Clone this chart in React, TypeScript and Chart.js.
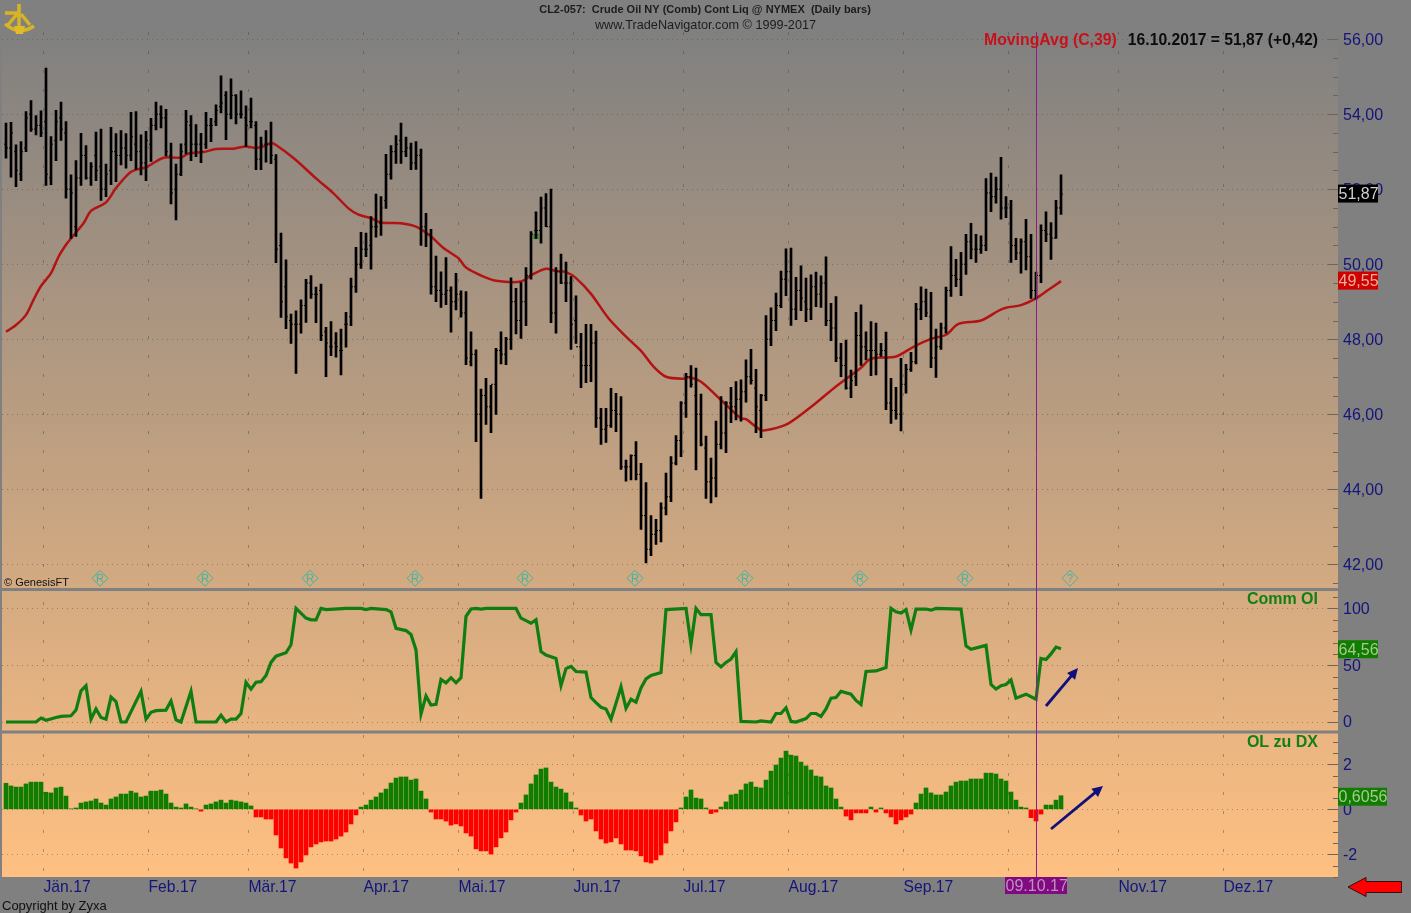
import { useEffect, useRef } from "react";
import { Chart, registerables } from "chart.js";

Chart.register(...registerables);

const highs = [
  53.76,53.78,53.18,53.27,54.07,54.36,53.96,54.09,55.23,53.40,
  54.10,54.32,53.80,52.38,52.76,53.49,53.16,52.71,53.52,53.60,
  52.67,53.65,53.48,53.56,53.48,54.05,54.07,53.45,53.54,53.89,
  54.32,54.22,54.13,53.23,52.67,53.21,54.10,53.96,53.72,53.49,
  54.05,53.89,54.25,55.02,54.60,54.94,54.52,54.62,54.22,54.43,
  53.80,53.39,53.56,53.79,52.92,50.83,50.12,48.67,48.76,49.05,
  49.60,49.70,49.39,49.47,48.32,48.47,48.18,48.27,48.72,49.63,
  50.45,50.85,50.83,51.27,51.87,51.80,52.93,53.16,53.43,53.76,
  53.39,53.23,53.27,53.07,51.36,50.93,50.22,49.80,50.18,49.40,
  49.76,49.29,49.27,48.20,47.72,46.67,46.96,46.77,47.76,48.20,
  48.05,49.64,49.36,49.51,49.91,50.87,51.40,51.79,51.88,52.00,
  49.91,50.27,50.06,49.67,49.16,48.16,48.40,48.40,48.22,46.16,
  46.16,46.69,46.56,46.47,44.78,44.92,45.27,44.69,44.18,43.30,
  43.20,43.64,44.43,44.87,45.43,46.34,47.09,47.30,47.23,46.54,
  45.42,44.83,45.82,46.47,46.34,46.72,46.87,46.92,47.45,47.73,
  47.20,46.53,48.63,48.84,49.23,49.82,50.41,50.43,49.65,49.96,
  49.63,49.72,49.79,49.69,50.20,48.96,49.14,47.89,47.98,47.18,
  48.72,48.92,48.20,48.47,48.43,47.89,48.19,46.96,46.72,47.49,
  47.33,47.65,48.96,49.40,49.34,49.25,48.27,48.43,49.39,50.47,
  50.13,50.32,50.80,51.09,50.80,50.76,52.28,52.43,52.32,52.85,
  51.80,51.70,50.69,50.68,51.20,50.80,49.79,51.05,51.40,51.11,51.70,52.38,
];

const lows = [
  52.83,52.32,52.07,52.23,53.00,53.54,53.45,53.40,52.10,52.12,
  52.76,53.30,51.76,50.69,50.74,52.10,52.27,52.10,52.23,51.70,
  51.80,52.12,52.20,52.65,52.56,52.76,52.53,52.38,52.23,52.74,
  53.58,53.63,52.89,51.61,51.18,52.36,52.94,52.76,52.87,52.71,
  53.09,53.27,53.69,54.03,53.32,53.87,53.74,53.89,53.14,53.63,
  52.52,52.52,52.72,52.68,50.04,48.58,48.28,47.89,47.09,48.16,
  48.45,49.09,48.44,47.96,47.00,47.56,47.52,47.05,47.79,48.36,
  49.25,49.89,50.20,49.87,50.72,50.77,51.49,52.27,52.69,52.69,
  52.87,52.52,52.53,50.50,50.47,49.20,49.00,48.85,48.92,48.19,
  48.78,48.59,47.32,47.29,45.27,43.76,45.73,45.51,46.00,47.34,
  47.32,47.73,48.14,48.02,48.36,49.60,50.69,50.56,51.00,48.44,
  48.16,49.48,49.00,47.73,47.89,46.71,46.84,46.87,45.65,45.20,
  45.25,45.65,45.54,44.53,44.22,44.25,44.25,42.93,42.04,42.23,
  42.53,42.60,43.32,43.67,44.65,44.87,45.92,46.72,44.52,45.16,
  43.76,43.64,43.80,45.08,44.98,45.78,45.85,45.82,46.32,46.80,
  45.51,45.38,46.36,47.83,48.23,48.84,49.16,48.37,48.52,48.76,
  48.47,48.52,48.87,48.85,48.36,47.96,47.40,47.00,46.67,46.44,
  46.76,47.30,47.45,47.03,47.05,47.54,46.12,45.76,45.87,45.56,
  46.56,47.14,47.34,48.52,48.60,47.24,46.98,47.73,48.16,49.14,
  49.40,49.16,49.73,50.14,50.05,50.29,50.36,51.40,51.63,51.20,
  51.24,50.05,50.12,49.76,49.85,49.09,49.07,49.51,50.60,50.13,50.69,51.33,
];

const opens = [
  53.2,53.1,53.0,52.4,53.1,54.0,53.6,53.7,53.8,52.3,
  53.3,53.9,53.5,52.0,51.0,52.3,52.9,52.3,52.9,52.6,
  52.0,52.5,53.0,52.9,53.1,52.9,53.2,53.0,52.7,53.2,
  53.7,54.0,53.9,52.9,52.0,52.4,53.2,53.7,53.2,53.2,
  53.2,53.7,53.8,54.2,54.5,54.0,54.5,54.0,53.9,53.8,
  53.7,52.8,53.2,53.2,52.8,50.5,49.4,48.5,48.4,48.4,
  48.9,49.5,49.2,49.3,48.2,47.8,47.9,47.7,48.4,48.6,
  49.4,50.0,50.4,50.5,51.0,51.1,51.7,52.4,53.0,53.3,
  53.0,53.1,52.7,52.9,51.0,50.8,49.4,49.3,49.2,49.3,
  49.0,49.2,48.7,47.4,47.6,46.0,46.5,46.2,46.8,47.7,
  47.6,48.0,49.0,48.5,49.0,49.7,50.9,50.9,51.5,51.0,
  48.7,49.8,49.5,49.5,48.5,47.8,47.3,47.3,47.9,45.9,
  45.6,45.7,46.1,46.0,44.6,44.6,44.9,44.4,43.3,42.4,
  42.8,42.9,43.5,43.8,44.7,45.3,46.3,47.0,46.5,46.0,
  45.1,44.2,44.3,45.2,45.5,46.3,46.2,46.4,46.6,47.0,
  46.7,46.1,46.5,48.0,48.5,48.9,49.6,49.8,48.8,49.3,
  49.0,48.8,49.4,49.2,49.5,48.5,48.3,47.5,47.3,46.7,
  47.0,48.1,47.8,47.7,47.7,47.6,47.7,46.3,46.1,46.0,
  46.8,47.2,47.4,48.8,49.0,48.6,47.5,47.8,48.3,49.3,
  49.7,49.6,50.0,50.6,50.4,50.4,50.5,51.9,51.8,52.0,
  51.5,51.5,50.5,50.3,50.6,50.2,49.3,49.7,50.9,50.8,50.7,51.5,
];

const closes = [
  53.1,53.5,52.5,53.0,53.9,53.6,53.7,53.5,52.4,53.2,
  53.8,53.6,52.0,51.9,52.3,52.9,52.3,52.6,52.5,52.0,
  52.4,53.0,52.9,53.1,52.9,53.4,53.0,52.7,53.3,53.7,
  54.0,53.9,53.0,51.9,52.4,53.0,53.8,53.2,53.2,53.0,
  53.7,53.7,54.1,54.3,54.0,54.5,54.0,54.0,53.7,53.8,
  52.8,53.2,53.2,52.9,50.4,49.0,48.6,48.4,48.4,48.9,
  49.5,49.2,49.2,48.1,47.9,47.8,47.8,47.7,48.4,49.4,
  50.0,50.4,50.4,51.0,51.0,51.5,52.4,53.0,53.2,53.0,
  53.1,52.7,52.9,51.0,50.8,49.4,49.3,49.2,49.3,49.0,
  49.2,48.7,47.5,47.6,46.0,46.5,46.2,46.8,47.7,47.6,
  48.0,49.0,48.5,49.0,49.7,50.8,50.9,51.5,51.0,48.7,
  49.8,49.5,49.5,48.4,47.8,47.3,47.3,47.9,45.9,45.6,
  45.7,46.1,46.0,44.6,44.6,44.9,44.4,43.3,42.4,42.8,
  42.9,43.5,43.8,44.7,45.3,46.3,47.0,46.8,46.0,45.2,
  44.2,44.3,45.2,45.5,46.3,46.2,46.4,46.6,47.0,46.9,
  46.2,46.5,48.0,48.5,48.9,49.6,49.8,48.8,49.3,49.1,
  48.8,49.4,49.2,49.5,48.5,48.3,47.5,47.3,46.7,46.9,
  48.1,47.8,47.7,47.7,47.6,47.7,46.3,46.1,46.0,46.8,
  47.2,47.4,48.8,49.0,48.7,47.5,47.8,48.3,49.3,49.7,
  49.6,50.0,50.6,50.4,50.4,50.5,51.9,51.8,52.0,51.5,
  51.5,50.5,50.3,50.6,50.2,49.3,49.7,50.9,50.8,50.7,51.5,51.87,
];

// moving average, read at its bends
const maIndex = [
  0,2,4,5.5,7,9,10.5,12,13,15.5,17,20,22,24.5,26,28,31.5,35,36.5,39.5,42,45.5,48,50,51.5,53,54,57.5,62,65.5,68.5,
  70.5,73,75,79,82,85,87.5,90.5,92,95,98,103,105.5,108,110,112,114,117,120.5,124,127,129.5,132,135.5,136.5,
  139,143,147,148,151,153,156.5,161.5,165.5,171,173,178,181.5,185,188,190.5,195,198.5,200,203,206,208.5,211,
];
const maValues = [
  48.20,48.38,48.65,49.05,49.42,49.76,50.20,50.52,50.69,51.09,51.42,51.65,52.03,52.41,52.52,52.58,52.84,52.84,52.95,52.99,53.07,53.08,53.14,53.10,53.14,53.23,53.18,52.83,52.29,51.89,51.49,
  51.32,51.23,51.11,51.09,51.00,50.74,50.43,50.16,49.91,49.70,49.56,49.54,49.74,49.88,49.82,49.79,49.63,49.21,48.56,48.07,47.69,47.27,47.00,46.95,46.99,
  46.87,46.38,45.89,45.87,45.58,45.60,45.76,46.25,46.69,47.24,47.48,47.54,47.80,48.01,48.12,48.41,48.50,48.76,48.84,48.91,49.09,49.32,49.55,
];

const oiIndex = [
  0,6,7,8,10,11,13,14,15,16,17,18,19,20,21,22,23,24,27,28,29,30,32,33,34,35,37,38,42,43,44,45,46,47,48,49,50,51,52,53,54,56,57,58,60,61,62,63,64,68,
  69,71,72,73,76,77,78,80,81,82,83,84,85,86,87,88,89,90,91,92,93,94,95,96,102,103,105,106,107,108,110,111,112,113,114,116,117,118,119,120,121,122,123,124,125,126,127,128,129,131,132,136,137,138,
  139,141,142,143,144,145,146,147,150,151,153,154,155,156,157,158,160,161,162,163,164,165,166,167,169,170,171,172,174,176,177,178,179,180,181,182,184,185,186,191,192,193,196,197,198,199,200,201,202,204,206,207,208,209,210,211,
];
const oiValues = [
  0,0,3.5,1.5,4,5,5.5,10.5,27.5,32,2.5,11.5,4,2.5,22,18,0,0,27,2.5,8.5,10,10.5,18.5,2,0,27,0,0,6,0,2.5,2.5,7.5,35,29,35,35.5,41,52.5,58,61,68,100,91.5,90,90,100,99,100,
  100,100,99,100,99,97,82.5,80.5,77,63.5,7,23,15,15.5,37.5,34.5,39,34.5,39,93,99.5,100,99.5,100,100,91.5,87,90,62,59,56,32,47,49,44.5,44,21.5,17,13,11.5,2.5,16.5,31,12,20,17.5,30,38,41,43.5,99,100,68.5,100,
  94.5,94.5,52.5,48.5,52.5,55.5,62,0.5,0,1,0,7.5,7.5,12.5,0.5,0,3,7.5,7.5,5,11.5,21,21.5,27,24.5,19,15.5,44.5,45,48,100,97,96,99,81,99.5,99.5,98.5,100,99.5,67,64,67.5,33,29,32,33,37,21,24.5,20,56,55,60,66,64.56,
];

const oilVsDollar = [
  1.16,1.04,0.99,0.99,1.13,1.21,1.21,1.21,0.76,0.73,
  0.95,0.99,0.59,0.02,0.06,0.28,0.33,0.37,0.46,0.28,
  0.19,0.46,0.55,0.68,0.68,0.81,0.73,0.55,0.59,0.81,
  0.81,0.86,0.68,0.28,0.10,0.06,0.24,0.10,0.02,-0.08,
  0.19,0.24,0.33,0.41,0.28,0.41,0.37,0.33,0.28,0.15,
  -0.34,-0.34,-0.43,-0.43,-1.14,-1.72,-2.16,-2.39,-2.61,-2.34,
  -2.03,-1.67,-1.54,-1.45,-1.41,-1.41,-1.32,-1.19,-1.01,-0.65,
  -0.25,0.10,0.19,0.41,0.55,0.73,0.90,1.17,1.39,1.44,
  1.44,1.30,1.35,0.81,0.46,-0.12,-0.43,-0.43,-0.52,-0.70,
  -0.65,-0.74,-1.05,-1.19,-1.76,-1.85,-1.85,-1.99,-1.67,-1.27,
  -1.01,-0.47,-0.12,0.28,0.64,1.13,1.53,1.79,1.84,1.21,
  0.99,0.90,0.73,0.33,0.06,-0.25,-0.52,-0.43,-0.96,-1.32,
  -1.50,-1.45,-1.27,-1.54,-1.81,-1.81,-1.85,-2.07,-2.34,-2.39,
  -2.25,-2.03,-1.50,-0.96,-0.56,0.06,0.55,0.86,0.50,0.46,
  0.06,-0.19,-0.12,0.10,0.33,0.64,0.68,0.86,1.13,1.21,
  0.99,0.95,1.30,1.70,1.97,2.28,2.59,2.41,2.37,2.10,
  1.93,1.75,1.48,1.44,1.04,0.95,0.46,0.10,-0.30,-0.47,
  -0.16,-0.16,-0.16,0.10,-0.12,0.06,-0.16,-0.34,-0.65,-0.47,
  -0.34,-0.21,0.28,0.68,0.95,0.73,0.64,0.64,0.77,1.04,
  1.21,1.26,1.26,1.35,1.35,1.35,1.61,1.61,1.57,1.35,
  1.26,0.77,0.41,0.10,0.06,-0.37,-0.52,-0.21,0.19,0.19,0.41,0.6056,
];

const monthTicks = [7.5,28.5,48.5,71.5,90.5,113.5,135.5,156.5,179.5,200.5,222.5,243.5];
const monthLabels = ["Jän.17","Feb.17","Mär.17","Apr.17","Mai.17","Jun.17","Jul.17","Aug.17","Sep.17","","Nov.17","Dez.17"];
const rollIndex = [18.8,39.8,60.8,81.8,103.8,125.8,147.8,170.8,191.8,212.8];
const rollLabels = ["R","R","R","R","R","R","R","R","R","?"];
const rollLevel = 41.63;
const cursorIndex = 206;
const alertMark = { x: 106, y: 50.74 };

const bars = highs.map((h, i) => i);
const zip = (xs: number[], ys: number[]) => xs.map((x, i) => ({ x, y: ys[i] }));

const comma = (v: number, digits: number) => v.toFixed(digits).replace(".", ",");
const SANS = '"Liberation Sans", Arial, sans-serif';
const NAVY = "#14147a";

function fixedWidth(scale: any) {
  scale.width = 73;
  scale.paddingTop = 0;
  scale.paddingBottom = 0;
}

// panel furniture and the text that sits on the plot
const furniture = {
  id: "furniture",
  beforeDraw(chart: any) {
    const { ctx, chartArea: a, width, height } = chart;
    ctx.save();
    ctx.fillStyle = "#808080";
    ctx.fillRect(0, 0, width, height);
    const g = ctx.createLinearGradient(0, a.top, 0, a.bottom);
    g.addColorStop(0, "#808080");
    g.addColorStop(1, "#ffc082");
    ctx.fillStyle = g;
    ctx.fillRect(a.left, a.top, a.right - a.left, a.bottom - a.top);
    ctx.restore();
  },
  beforeDatasetsDraw(chart: any) {
    const { ctx, chartArea: a, scales } = chart;
    ctx.save();
    // short ticks along the right edge
    const steps: [string, number, number][] = [["y", 0.5, 2], ["yOi", 10, 50], ["yOsc", 0.5, 2]];
    ctx.strokeStyle = "#6e6458";
    ctx.lineWidth = 1;
    for (const [id, step, major] of steps) {
      const s = scales[id];
      for (let v = Math.ceil(s.min / step) * step; v <= s.max; v += step) {
        const y = Math.round(s.getPixelForValue(v)) + 0.5;
        const len = Math.abs(v / major - Math.round(v / major)) < 1e-6 ? 10 : 5;
        ctx.beginPath();
        ctx.moveTo(a.right - len, y);
        ctx.lineTo(a.right, y);
        ctx.stroke();
      }
    }
    // panel dividers
    ctx.fillStyle = "#808080";
    ctx.fillRect(a.left, scales.y.bottom - 1.5, a.right - a.left, 3);
    ctx.fillRect(a.left, scales.yOi.bottom - 1.5, a.right - a.left, 3);
    ctx.restore();
  },
  afterDraw(chart: any) {
    const { ctx, chartArea: a, scales } = chart;
    ctx.save();
    const cx = Math.round(scales.x.getPixelForValue(cursorIndex)) + 0.5;
    ctx.strokeStyle = "#8f1a8c";
    ctx.lineWidth = 1;
    ctx.beginPath();
    ctx.moveTo(cx, a.top);
    ctx.lineTo(cx, a.bottom);
    ctx.stroke();

    const text = (t: string, x: number, y: number, font: string, color: string, align = "left") => {
      ctx.font = `${font} ${SANS}`;
      ctx.fillStyle = color;
      ctx.textAlign = align;
      ctx.textBaseline = "middle";
      ctx.fillText(t, x, y);
    };
    text("CL2-057:  Crude Oil NY (Comb) Cont Liq @ NYMEX  (Daily bars)", 705, 10, "bold 11px", "#1c1c1c", "center");
    text("www.TradeNavigator.com © 1999-2017", 705.5, 25, "12.7px", "#1c1c1c", "center");
    text("MovingAvg (C,39)", 984, 40.5, "bold 15.8px", "#c8101a");
    text("16.10.2017 = 51,87 (+0,42)", 1318, 40.5, "bold 15.7px", "#0c0c0c", "right");
    text("© GenesisFT", 4, 582.5, "11px", "#101010");
    text("Comm OI", 1318, 599.5, "bold 16px", "#128012", "right");
    text("OL zu DX", 1318, 742.5, "bold 16px", "#128012", "right");
    text("Copyright by Zyxa", 2, 906.5, "13px", "#101010");

    // value flags on the price axis
    const flags: [string, number, number, number, string, string][] = [
      [comma(closes[closes.length - 1], 2), scales.y.getPixelForValue(51.87) - 0.5, 40, 18, "#000000", "#d0d0d0"],
      [comma(maValues[maValues.length - 1], 2), scales.y.getPixelForValue(49.55) - 0.5, 40, 18, "#d00000", "#e8b0a0"],
      [comma(oiValues[oiValues.length - 1], 2), scales.yOi.getPixelForValue(64.56) + 0.5, 40, 18, "#107d00", "#a8c890"],
      [comma(oilVsDollar[oilVsDollar.length - 1], 4), scales.yOsc.getPixelForValue(0.6056) + 1, 49, 18, "#107d00", "#a8c890"],
    ];
    for (const [t, y, w, h, bg, fg] of flags) {
      ctx.fillStyle = bg;
      ctx.fillRect(a.right, y - h / 2, w, h);
      text(t, a.right + 0.5, y + 1, "16px", fg);
    }
    ctx.fillStyle = "#800a80";
    ctx.fillRect(1005, 877, 62, 17);
    text("09.10.17", 1005.5, 886.5, "16px", "#c090c0");

    // rollover letters inside the diamonds
    rollIndex.forEach((v, i) => {
      text(rollLabels[i], scales.x.getPixelForValue(v), scales.y.getPixelForValue(rollLevel) + 0.5, "11px", "#35b8a4", "center");
    });

    // hand-drawn arrows
    const arrow = (x0: number, y0: number, x1: number, y1: number) => {
      const ang = Math.atan2(y1 - y0, x1 - x0);
      ctx.strokeStyle = "#10107a";
      ctx.fillStyle = "#10107a";
      ctx.lineWidth = 2.8;
      ctx.beginPath();
      ctx.moveTo(x0, y0);
      ctx.lineTo(x1 - 6 * Math.cos(ang), y1 - 6 * Math.sin(ang));
      ctx.stroke();
      ctx.beginPath();
      ctx.moveTo(x1, y1);
      ctx.lineTo(x1 - 12 * Math.cos(ang - 0.45), y1 - 12 * Math.sin(ang - 0.45));
      ctx.lineTo(x1 - 12 * Math.cos(ang + 0.45), y1 - 12 * Math.sin(ang + 0.45));
      ctx.closePath();
      ctx.fill();
    };
    arrow(1046, 706, 1078, 668);
    arrow(1051, 829, 1103, 786);

    // red arrow, bottom right
    ctx.fillStyle = "#ff0000";
    ctx.strokeStyle = "#301010";
    ctx.lineWidth = 1;
    ctx.beginPath();
    ctx.moveTo(1348, 887);
    ctx.lineTo(1366, 877.5);
    ctx.lineTo(1366, 881.5);
    ctx.lineTo(1401.5, 881.5);
    ctx.lineTo(1401.5, 892.5);
    ctx.lineTo(1366, 892.5);
    ctx.lineTo(1366, 896.5);
    ctx.closePath();
    ctx.fill();
    ctx.stroke();

    // sextant logo
    ctx.strokeStyle = "#d8b424";
    ctx.fillStyle = "#e0bc28";
    ctx.lineWidth = 3.5;
    ctx.beginPath();
    ctx.moveTo(5, 13);
    ctx.lineTo(18, 13);
    ctx.moveTo(19, 4);
    ctx.lineTo(19, 30);
    ctx.moveTo(17, 14);
    ctx.lineTo(8, 25);
    ctx.moveTo(21, 14);
    ctx.lineTo(30, 25);
    ctx.stroke();
    ctx.beginPath();
    ctx.moveTo(5, 24);
    ctx.quadraticCurveTo(19, 36, 34, 26);
    ctx.stroke();
    ctx.beginPath();
    ctx.moveTo(14, 26);
    ctx.lineTo(25, 26);
    ctx.lineTo(23, 34);
    ctx.lineTo(16, 34);
    ctx.closePath();
    ctx.fill();
    ctx.restore();
  },
};

export default function App() {
  const canvasRef = useRef<HTMLCanvasElement>(null);

  useEffect(() => {
    if (!canvasRef.current) return;
    const gridCol = "rgba(75,62,50,0.42)";
    const tickFont = { family: SANS, size: 16 };
    const chart = new Chart(canvasRef.current, {
      type: "bar",
      data: {
        datasets: [
          {
            type: "bar",
            yAxisID: "y",
            grouped: false,
            barThickness: 2,
            backgroundColor: "#000000",
            data: bars.map((i) => ({ x: i, y: [lows[i], highs[i]] })),
          },
          {
            type: "line",
            yAxisID: "y",
            showLine: false,
            pointStyle: "dash",
            pointRadius: 2,
            pointRotation: 180,
            pointBorderColor: "#000000",
            pointBorderWidth: 1,
            data: zip(bars, opens),
          },
          {
            type: "line",
            yAxisID: "y",
            showLine: false,
            pointStyle: "dash",
            pointRadius: 2,
            pointBorderColor: "#000000",
            pointBorderWidth: 1,
            data: zip(bars, closes),
          },
          {
            type: "line",
            yAxisID: "y",
            showLine: false,
            pointStyle: "rect",
            pointRadius: 3,
            pointBackgroundColor: "#8a9a4a",
            pointBorderColor: "#0c9020",
            pointBorderWidth: 1,
            data: [alertMark],
          },
          {
            type: "line",
            yAxisID: "y",
            borderColor: "#b21414",
            borderWidth: 2.5,
            pointRadius: 0,
            tension: 0.3,
            data: zip(maIndex, maValues),
          },
          {
            type: "line",
            yAxisID: "y",
            showLine: false,
            pointStyle: "rectRot",
            pointRadius: 8,
            pointBackgroundColor: "transparent",
            pointBorderColor: "#35b8a4",
            pointBorderWidth: 1,
            data: rollIndex.map((x) => ({ x, y: rollLevel })),
          },
          {
            type: "line",
            yAxisID: "yOi",
            borderColor: "#107d10",
            borderWidth: 3.2,
            pointRadius: 0,
            tension: 0,
            data: zip(oiIndex, oiValues),
          },
          {
            type: "bar",
            yAxisID: "yOsc",
            grouped: false,
            barThickness: 4,
            backgroundColor: oilVsDollar.map((v) => (v < 0 ? "#ff0000" : "#0f7d00")),
            data: zip(bars, oilVsDollar),
          },
        ],
      } as any,
      options: {
        animation: false,
        responsive: false,
        devicePixelRatio: 1,
        layout: { autoPadding: false, padding: { left: 2, top: 32, right: 0, bottom: 0 } },
        plugins: { legend: { display: false }, tooltip: { enabled: false } },
        scales: {
          x: {
            type: "linear",
            offset: false,
            min: -0.8,
            max: 266.4,
            afterBuildTicks: (s: any) => {
              s.ticks = monthTicks.map((value) => ({ value }));
            },
            afterFit: (s: any) => {
              s.height = 36;
              s.paddingLeft = 0;
              s.paddingRight = 0;
            },
            grid: { offset: false, color: gridCol, drawTicks: false },
            border: { display: false, dash: [3, 16] },
            ticks: {
              autoSkip: false,
              maxRotation: 0,
              align: "start",
              padding: 1,
              color: NAVY,
              font: { family: SANS, size: 15.7 },
              callback: (v: any) => monthLabels[monthTicks.indexOf(Number(v))],
            },
          },
          y: {
            position: "right",
            stack: "panels",
            stackWeight: 557.5,
            weight: 1,
            min: 41.33,
            max: 56.19,
            afterFit: fixedWidth,
            grid: { color: gridCol, drawTicks: false },
            border: { display: false, dash: [1, 4] },
            ticks: { stepSize: 2, includeBounds: false, autoSkip: false, labelOffset: 1, padding: 5, color: NAVY, font: tickFont, callback: (v: any) => comma(Number(v), 2) },
          },
          yOi: {
            position: "right",
            stack: "panels",
            stackWeight: 142.5,
            weight: 2,
            min: -8.8,
            max: 116.7,
            afterFit: fixedWidth,
            grid: { color: gridCol, drawTicks: false },
            border: { display: false, dash: [1, 4] },
            ticks: { stepSize: 50, includeBounds: false, autoSkip: false, labelOffset: 1, padding: 5, color: NAVY, font: tickFont },
          },
          yOsc: {
            position: "right",
            stack: "panels",
            stackWeight: 145,
            weight: 3,
            min: -3.01,
            max: 3.44,
            afterFit: fixedWidth,
            grid: { color: gridCol, drawTicks: false },
            border: { display: false, dash: [1, 4] },
            ticks: { stepSize: 2, includeBounds: false, autoSkip: false, labelOffset: 1, padding: 5, color: NAVY, font: tickFont },
          },
        },
      } as any,
      plugins: [furniture],
    });
    return () => chart.destroy();
  }, []);

  return (
    <canvas
      ref={canvasRef}
      width={1411}
      height={913}
      style={{ position: "absolute", left: 0, top: 0, display: "block" }}
      role="img"
      aria-label="Crude Oil NY daily bars with 39-day moving average, Comm OI and OL zu DX panels"
    />
  );
}
